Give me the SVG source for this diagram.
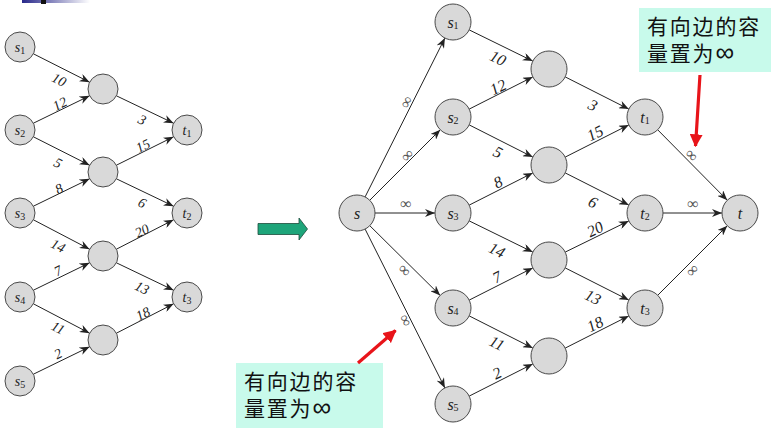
<svg xmlns="http://www.w3.org/2000/svg" width="772" height="442" viewBox="0 0 772 442">
<defs>
<style>
.n circle{fill:#d9d9d9;stroke:#4a4a4a;stroke-width:1}
.n text{font-family:"Liberation Serif",serif;font-style:italic;fill:#222;text-anchor:middle;dominant-baseline:central}
.L text{font-size:14px}
.R text{font-size:16px}
.sub{font-style:normal;font-size:10px}
#edges line{stroke:#222;stroke-width:1;marker-end:url(#ah)}
.w{font-family:"Liberation Serif",serif;font-style:italic;fill:#222;text-anchor:middle;dominant-baseline:central}
.wl{font-size:14px}
.wr{font-size:16px}
.inf{font-family:"Liberation Serif",serif;font-size:16px;fill:#555;text-anchor:middle;dominant-baseline:central}
.box{fill:#c8faeb}
.ct{font-family:"Liberation Sans","Noto Sans CJK SC",sans-serif;font-size:21px;letter-spacing:1.8px;fill:#111}
.big{font-size:26px}
.red{stroke:#e8141a;stroke-width:3.2;fill:none}
</style>
<marker id="ah" viewBox="0 0 10 8" refX="10" refY="4" markerWidth="10" markerHeight="8" markerUnits="userSpaceOnUse" orient="auto">
<path d="M0,0 L10,4 L0,8 L3,4 z" fill="#222"/>
</marker>
<marker id="rh" viewBox="0 0 10 10" refX="9" refY="5" markerWidth="13" markerHeight="13" markerUnits="userSpaceOnUse" orient="auto">
<path d="M0,0 L10,5 L0,10 z" fill="#e8141a"/>
</marker>
<linearGradient id="hg" x1="0" x2="1" y1="0" y2="0">
<stop offset="0" stop-color="#28288a"/>
<stop offset="1" stop-color="#ffffff"/>
</linearGradient>
</defs>
<rect width="772" height="442" fill="#fff"/>
<rect x="22" y="0" width="68" height="3" fill="url(#hg)"/>
<rect x="41" y="0" width="5" height="4" fill="#111"/>

<g id="edges">
<line x1="33.4" y1="53.8" x2="89.6" y2="82.2"/>
<line x1="33.4" y1="123.2" x2="89.6" y2="95.8"/>
<line x1="33.4" y1="136.8" x2="89.6" y2="165.2"/>
<line x1="33.4" y1="206.2" x2="89.6" y2="178.8"/>
<line x1="33.4" y1="219.8" x2="89.6" y2="249.2"/>
<line x1="33.4" y1="290.2" x2="89.6" y2="262.8"/>
<line x1="33.4" y1="303.8" x2="89.6" y2="333.2"/>
<line x1="33.4" y1="374.2" x2="89.6" y2="346.8"/>
<line x1="116.4" y1="95.8" x2="173.6" y2="123.2"/>
<line x1="116.4" y1="165.2" x2="173.6" y2="136.8"/>
<line x1="116.4" y1="178.8" x2="173.6" y2="206.2"/>
<line x1="116.4" y1="249.2" x2="173.6" y2="219.8"/>
<line x1="116.4" y1="262.8" x2="173.6" y2="290.2"/>
<line x1="116.4" y1="333.2" x2="173.6" y2="303.8"/>
<line x1="365.1" y1="196.9" x2="444.9" y2="38.1"/>
<line x1="369.7" y1="200.3" x2="440.3" y2="129.7"/>
<line x1="375" y1="213" x2="435" y2="213"/>
<line x1="369.7" y1="225.6" x2="440.2" y2="295.4"/>
<line x1="365.1" y1="229.1" x2="444.9" y2="387.9"/>
<line x1="469.2" y1="29.9" x2="532.8" y2="61.1"/>
<line x1="469.2" y1="109.1" x2="532.8" y2="76.9"/>
<line x1="469.2" y1="124.9" x2="532.8" y2="157.1"/>
<line x1="469.2" y1="205.1" x2="532.8" y2="172.9"/>
<line x1="469.2" y1="220.9" x2="532.8" y2="252.1"/>
<line x1="469.2" y1="300.1" x2="532.8" y2="267.9"/>
<line x1="469.2" y1="315.9" x2="532.8" y2="348.1"/>
<line x1="469.2" y1="396.1" x2="532.8" y2="363.9"/>
<line x1="565.2" y1="76.9" x2="628.8" y2="109.1"/>
<line x1="565.2" y1="157.1" x2="628.8" y2="124.9"/>
<line x1="565.2" y1="172.9" x2="628.8" y2="205.1"/>
<line x1="565.2" y1="252.1" x2="628.8" y2="220.9"/>
<line x1="565.2" y1="267.9" x2="628.8" y2="300.1"/>
<line x1="565.2" y1="348.1" x2="628.8" y2="315.9"/>
<line x1="657.7" y1="129.8" x2="727.3" y2="200.2"/>
<line x1="663" y1="213" x2="722" y2="213"/>
<line x1="657.7" y1="295.3" x2="727.3" y2="225.7"/>
</g>

<g id="edge-labels">
<text class="w wl" transform="translate(59,80) rotate(26.8)">10</text>
<text class="w wl" transform="translate(60,104) rotate(-26.8)">12</text>
<text class="w wl" transform="translate(58,163) rotate(26.8)">5</text>
<text class="w wl" transform="translate(59,189) rotate(-26.8)">8</text>
<text class="w wl" transform="translate(58,246) rotate(26.8)">14</text>
<text class="w wl" transform="translate(58,271) rotate(-26.8)">7</text>
<text class="w wl" transform="translate(58,328) rotate(26.8)">11</text>
<text class="w wl" transform="translate(58,354) rotate(-26.8)">2</text>
<text class="w wl" transform="translate(142,120) rotate(26)">3</text>
<text class="w wl" transform="translate(143,146) rotate(-26)">15</text>
<text class="w wl" transform="translate(142,203) rotate(26)">6</text>
<text class="w wl" transform="translate(142,231) rotate(-26)">20</text>
<text class="w wl" transform="translate(142,288) rotate(26)">13</text>
<text class="w wl" transform="translate(143,314) rotate(-26)">18</text>

<text class="w wr" transform="translate(498,58) rotate(26)">10</text>
<text class="w wr" transform="translate(498,87) rotate(-26)">12</text>
<text class="w wr" transform="translate(498,152) rotate(26)">5</text>
<text class="w wr" transform="translate(498,182) rotate(-26)">8</text>
<text class="w wr" transform="translate(497,250) rotate(26)">14</text>
<text class="w wr" transform="translate(497,277) rotate(-26)">7</text>
<text class="w wr" transform="translate(497,343) rotate(26)">11</text>
<text class="w wr" transform="translate(497,373) rotate(-26)">2</text>
<text class="w wr" transform="translate(593,105) rotate(26)">3</text>
<text class="w wr" transform="translate(595,133) rotate(-26)">15</text>
<text class="w wr" transform="translate(593,202) rotate(26)">6</text>
<text class="w wr" transform="translate(595,229) rotate(-26)">20</text>
<text class="w wr" transform="translate(593,297) rotate(26)">13</text>
<text class="w wr" transform="translate(595,324) rotate(-26)">18</text>

<text class="inf" transform="translate(406,102) rotate(-63)">∞</text>
<text class="inf" transform="translate(407,155) rotate(-45)">∞</text>
<text class="inf" x="406" y="203">∞</text>
<text class="inf" transform="translate(405,270) rotate(45)">∞</text>
<text class="inf" transform="translate(406,320) rotate(63)">∞</text>
<text class="inf" transform="translate(692,155) rotate(45)">∞</text>
<text class="inf" x="693" y="203">∞</text>
<text class="inf" transform="translate(692,270) rotate(-45)">∞</text>
</g>

<g id="L-s1" class="n L"><circle cx="20" cy="47" r="15"/><text x="20" y="47">s<tspan class="sub" dy="3">1</tspan></text></g>
<g id="L-s2" class="n L"><circle cx="20" cy="130" r="15"/><text x="20" y="130">s<tspan class="sub" dy="3">2</tspan></text></g>
<g id="L-s3" class="n L"><circle cx="20" cy="213" r="15"/><text x="20" y="213">s<tspan class="sub" dy="3">3</tspan></text></g>
<g id="L-s4" class="n L"><circle cx="20" cy="297" r="15"/><text x="20" y="297">s<tspan class="sub" dy="3">4</tspan></text></g>
<g id="L-s5" class="n L"><circle cx="20" cy="381" r="15"/><text x="20" y="381">s<tspan class="sub" dy="3">5</tspan></text></g>
<g id="L-m1" class="n L"><circle cx="103" cy="89" r="15"/></g>
<g id="L-m2" class="n L"><circle cx="103" cy="172" r="15"/></g>
<g id="L-m3" class="n L"><circle cx="103" cy="256" r="15"/></g>
<g id="L-m4" class="n L"><circle cx="103" cy="340" r="15"/></g>
<g id="L-t1" class="n L"><circle cx="187" cy="130" r="15"/><text x="187" y="130">t<tspan class="sub" dy="3">1</tspan></text></g>
<g id="L-t2" class="n L"><circle cx="187" cy="213" r="15"/><text x="187" y="213">t<tspan class="sub" dy="3">2</tspan></text></g>
<g id="L-t3" class="n L"><circle cx="187" cy="297" r="15"/><text x="187" y="297">t<tspan class="sub" dy="3">3</tspan></text></g>

<g id="R-s" class="n R"><circle cx="357" cy="213" r="18"/><text x="357" y="213">s</text></g>
<g id="R-s1" class="n R"><circle cx="453" cy="22" r="18"/><text x="453" y="22">s<tspan class="sub" dy="3">1</tspan></text></g>
<g id="R-s2" class="n R"><circle cx="453" cy="117" r="18"/><text x="453" y="117">s<tspan class="sub" dy="3">2</tspan></text></g>
<g id="R-s3" class="n R"><circle cx="453" cy="213" r="18"/><text x="453" y="213">s<tspan class="sub" dy="3">3</tspan></text></g>
<g id="R-s4" class="n R"><circle cx="453" cy="308" r="18"/><text x="453" y="308">s<tspan class="sub" dy="3">4</tspan></text></g>
<g id="R-s5" class="n R"><circle cx="453" cy="404" r="18"/><text x="453" y="404">s<tspan class="sub" dy="3">5</tspan></text></g>
<g id="R-m1" class="n R"><circle cx="549" cy="69" r="18"/></g>
<g id="R-m2" class="n R"><circle cx="549" cy="165" r="18"/></g>
<g id="R-m3" class="n R"><circle cx="549" cy="260" r="18"/></g>
<g id="R-m4" class="n R"><circle cx="549" cy="356" r="18"/></g>
<g id="R-t1" class="n R"><circle cx="645" cy="117" r="18"/><text x="645" y="117">t<tspan class="sub" dy="3">1</tspan></text></g>
<g id="R-t2" class="n R"><circle cx="645" cy="213" r="18"/><text x="645" y="213">t<tspan class="sub" dy="3">2</tspan></text></g>
<g id="R-t3" class="n R"><circle cx="645" cy="308" r="18"/><text x="645" y="308">t<tspan class="sub" dy="3">3</tspan></text></g>
<g id="R-t" class="n R"><circle cx="740" cy="213" r="18"/><text x="740" y="213">t</text></g>

<g id="transform-arrow">
<path d="M258,223.5 L299,223.5 L299,218 L307.5,229 L299,240 L299,234.5 L258,234.5 Z" fill="#1ea57a" stroke="#1d4b3c" stroke-width="0.8"/>
</g>

<g id="callout-top">
<rect class="box" x="639" y="8" width="132" height="64"/>
<text class="ct" x="647" y="34">有向边的容</text>
<text class="ct" x="647" y="61">量置为<tspan class="big">∞</tspan></text>
<line class="red" x1="700" y1="75" x2="695.5" y2="146" marker-end="url(#rh)"/>
</g>
<g id="callout-bottom">
<rect class="box" x="236" y="363" width="147" height="65"/>
<text class="ct" x="244" y="389">有向边的容</text>
<text class="ct" x="244" y="416">量置为<tspan class="big">∞</tspan></text>
<line class="red" x1="358" y1="363" x2="395.5" y2="330.5" marker-end="url(#rh)"/>
</g>
</svg>
